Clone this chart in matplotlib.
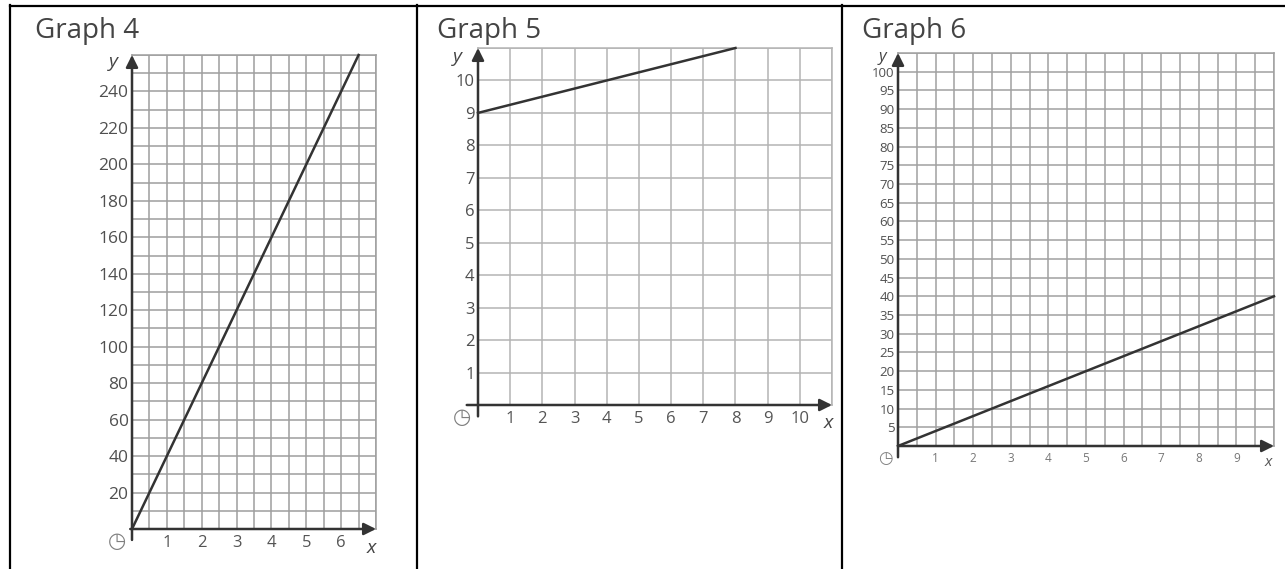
import numpy as np
import matplotlib
matplotlib.use('Agg')
import matplotlib.pyplot as plt
from matplotlib.lines import Line2D

plt.rcParams['font.family'] = ['Open Sans', 'DejaVu Sans']

# Graph 4: steep line through the origin
g4_x = [0, 6.5]
g4_y = [0, 260]
g4_xticks = [1, 2, 3, 4, 5, 6]
g4_yticks = [20, 40, 60, 80, 100, 120, 140, 160, 180, 200, 220, 240]

# Graph 5: line starting at 9
g5_x = [0, 8]
g5_y = [9, 11]
g5_xticks = [1, 2, 3, 4, 5, 6, 7, 8, 9, 10]
g5_yticks = [1, 2, 3, 4, 5, 6, 7, 8, 9, 10]

# Graph 6: shallow line through the origin
g6_x = [0, 10]
g6_y = [0, 40]
g6_xticks = [1, 2, 3, 4, 5, 6, 7, 8, 9]
g6_yticks = [5, 10, 15, 20, 25, 30, 35, 40, 45, 50,
             55, 60, 65, 70, 75, 80, 85, 90, 95, 100]

W, H = 1285, 569
fig = plt.figure(figsize=(W / 100, H / 100), dpi=100)


def px_box(left, top, right, bottom):
    # pixel box -> figure fraction rect
    return [left / W, 1 - bottom / H, (right - left) / W, (bottom - top) / H]


def fx(x):
    return x / W


def fy(y):
    return 1 - y / H


def draw_graph(rect, xs, ys, xmax, ymax, xstep, ystep, xticks, yticks,
               ysize, xsize, grid_color, ext_x, ext_y, xlab_color):
    ax = fig.add_axes(rect)
    ax.set_xlim(0, xmax)
    ax.set_ylim(0, ymax)
    ax.set_xticks(np.arange(0, xmax + 1e-9, xstep), minor=True)
    ax.set_yticks(np.arange(0, ymax + 1e-9, ystep), minor=True)
    ax.set_xticks(xticks)
    ax.set_yticks(yticks)
    ax.set_xticklabels([str(t) for t in xticks])
    ax.set_yticklabels([str(t) for t in yticks])
    ax.grid(which='both', color=grid_color, lw=1.1)
    ax.set_axisbelow(True)
    ax.tick_params(which='both', length=0)
    ax.tick_params(axis='y', pad=2.5, labelsize=ysize, labelcolor='#505050')
    ax.tick_params(axis='x', pad=4, labelsize=xsize, labelcolor=xlab_color)
    for s in ax.spines.values():
        s.set_color(grid_color)
        s.set_linewidth(1.1)

    # axes with arrow heads
    arrow = dict(arrowstyle='-|>', color='#333333', lw=1.8,
                 shrinkA=0, shrinkB=0, mutation_scale=18)
    ax.annotate('', xy=(0, ymax), xytext=(0, -ext_y), arrowprops=arrow)
    ax.annotate('', xy=(xmax, 0), xytext=(-ext_x, 0), arrowprops=arrow)

    ax.plot(xs, ys, color='#333333', lw=1.8, clip_on=False, zorder=4)
    return ax


draw_graph(px_box(132, 55, 376, 529), g4_x, g4_y, 7, 260, 0.5, 10,
           g4_xticks, g4_yticks, 12.5, 12, '#9e9e9e', 0.05, 6, '#555555')
draw_graph(px_box(478, 48, 832, 405), g5_x, g5_y, 11, 11, 1, 1,
           g5_xticks, g5_yticks, 12, 12, '#b4b4b4', 0.35, 0.35, '#555555')
draw_graph(px_box(898, 53, 1274, 446), g6_x, g6_y, 10, 105, 0.5, 5,
           g6_xticks, g6_yticks, 9.5, 8.5, '#a0a0a0', 0.0, 3, '#777777')

# titles
for label, x in [('Graph 4', 35), ('Graph 5', 437), ('Graph 6', 862)]:
    fig.text(fx(x), fy(31), label, fontsize=20, color='#444444',
             ha='left', va='center')

# axis names and origin marks
for x, y, s in [(113, 62, 'y'), (457, 57, 'y')]:
    fig.text(fx(x), fy(y), s, fontsize=14, style='italic', color='#444444',
             ha='center', va='center')
fig.text(fx(882), fy(57), 'y', fontsize=12, style='italic', color='#444444',
         ha='center', va='center')
for x, y, s in [(371, 548, 'x'), (828, 423, 'x')]:
    fig.text(fx(x), fy(y), s, fontsize=14, style='italic', color='#444444',
             ha='center', va='center')
fig.text(fx(1268), fy(462), 'x', fontsize=11, style='italic', color='#555555',
         ha='center', va='center')
for x, y, fs in [(117, 541, 15), (462, 417, 15), (885, 458, 12)]:
    fig.text(fx(x), fy(y), '◷', fontsize=fs, color='#808080',
             ha='center', va='center', family=['DejaVu Sans'])

# table borders
border = dict(color='black', lw=1.6, transform=fig.transFigure)
fig.add_artist(Line2D([fx(10), 1], [fy(5.5), fy(5.5)], **border))
for x in [10, 416.5, 842]:
    fig.add_artist(Line2D([fx(x), fx(x)], [fy(5), 0], **border))

fig.savefig('out.png', dpi=100, facecolor='white')
